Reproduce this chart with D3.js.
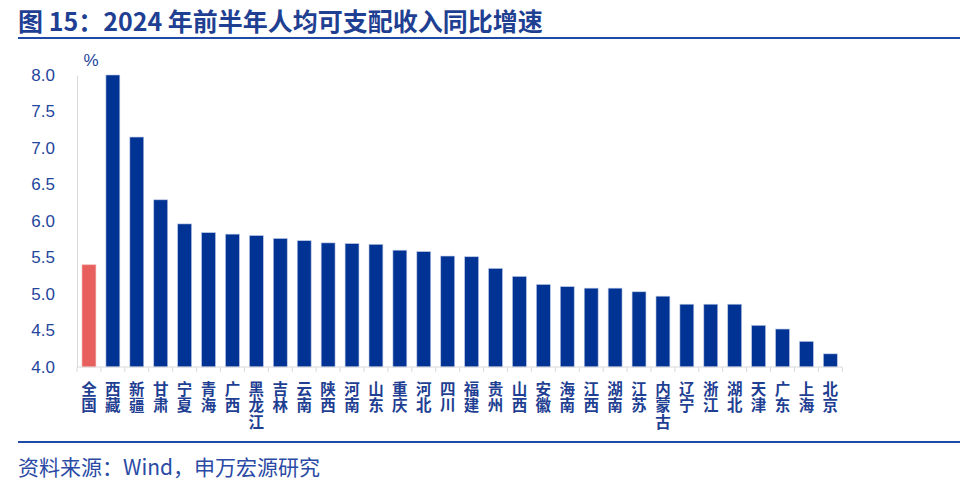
<!DOCTYPE html>
<html><head><meta charset="utf-8">
<script src="https://cdn.jsdelivr.net/npm/d3@7"></script>
<style>html,body{margin:0;padding:0;background:#fff;}svg{display:block;}</style>
</head><body><svg id="c" width="960" height="484"></svg>
<script>
const categories = ["全国","西藏","新疆","甘肃","宁夏","青海","广西","黑龙江","吉林","云南","陕西","河南","山东","重庆","河北","四川","福建","贵州","山西","安徽","海南","江西","湖南","江苏","内蒙古","辽宁","浙江","湖北","天津","广东","上海","北京"];
const values = [5.4,8.0,7.15,6.29,5.96,5.84,5.82,5.8,5.76,5.73,5.7,5.69,5.68,5.6,5.58,5.52,5.51,5.35,5.24,5.13,5.1,5.08,5.08,5.03,4.97,4.86,4.86,4.86,4.57,4.52,4.35,4.18];
const yTicks = [4.0,4.5,5.0,5.5,6.0,6.5,7.0,7.5,8.0];
const titleText = "图 15：2024 年前半年人均可支配收入同比增速";
const sourceText = "资料来源：Wind，申万宏源研究";
const unitText = "%";

const svg = d3.select("#c");
const cjk = "'Noto Sans CJK SC','Noto Sans',sans-serif";
const num = "'Liberation Sans',Arial,sans-serif";
const dark = "#1f3f93";

// title
svg.append("text").attr("x",18).attr("y",31).attr("font-family",cjk).attr("font-weight","bold")
  .attr("font-size",25).attr("fill",dark).text(titleText);
svg.append("rect").attr("x",18).attr("y",37).attr("width",942).attr("height",2).attr("fill","#1f4aa5");

const x = d3.scaleBand().domain(categories).range([77,842.3]).paddingInner(0.42).paddingOuter(0.21);
const y = d3.scaleLinear().domain([4,8]).range([367,75]);

// y axis
const ya = svg.append("g").attr("transform","translate(77,0)")
  .call(d3.axisLeft(y).tickValues(yTicks).tickFormat(d3.format(".1f")).tickSize(0).tickPadding(22));
ya.select(".domain").attr("stroke","#d9d9d9");
ya.selectAll("text").attr("font-family",num).attr("font-size",17).attr("fill","#24459c");

svg.append("text").attr("x",91).attr("y",66).attr("text-anchor","middle").attr("font-family",num)
  .attr("font-size",17).attr("fill","#24459c").text(unitText);

// bars
svg.append("g").selectAll("rect").data(categories).join("rect")
  .attr("x",d=>x(d)).attr("width",x.bandwidth())
  .attr("y",(d,i)=>y(values[i])).attr("height",(d,i)=>y(4)-y(values[i]))
  .attr("fill",(d,i)=>i===0?"#e8605e":"#003393")
  .attr("stroke",(d,i)=>i===0?"#f4b0ae":"#b8c4e4").attr("stroke-width",0.6);

// x axis
const xa = svg.append("g").attr("transform","translate(0,367)");
xa.append("line").attr("x1",77).attr("x2",842.3).attr("stroke","#d9d9d9");
const step = x.step();
const bounds = d3.range(categories.length+1).map(i=>77+i*step);
xa.selectAll("line.t").data(bounds).join("line").attr("class","t")
  .attr("x1",d=>d).attr("x2",d=>d).attr("y1",0).attr("y2",5).attr("stroke","#d9d9d9");

svg.append("g").selectAll("text").data(categories).join("text")
  .attr("font-family",cjk).attr("font-weight","bold").attr("font-size",15.5)
  .attr("fill",dark)
  .style("writing-mode","vertical-rl").style("text-orientation","upright")
  .style("letter-spacing","1px")
  .attr("x",d=>x(d)+x.bandwidth()/2).attr("y",381)
  .text(d=>d);

svg.append("rect").attr("x",18).attr("y",441).attr("width",942).attr("height",2).attr("fill","#1f4aa5");
svg.append("text").attr("x",18).attr("y",475).attr("font-family",cjk).attr("font-size",21)
  .attr("fill","#2a4aa5").text(sourceText);
</script></body></html>
